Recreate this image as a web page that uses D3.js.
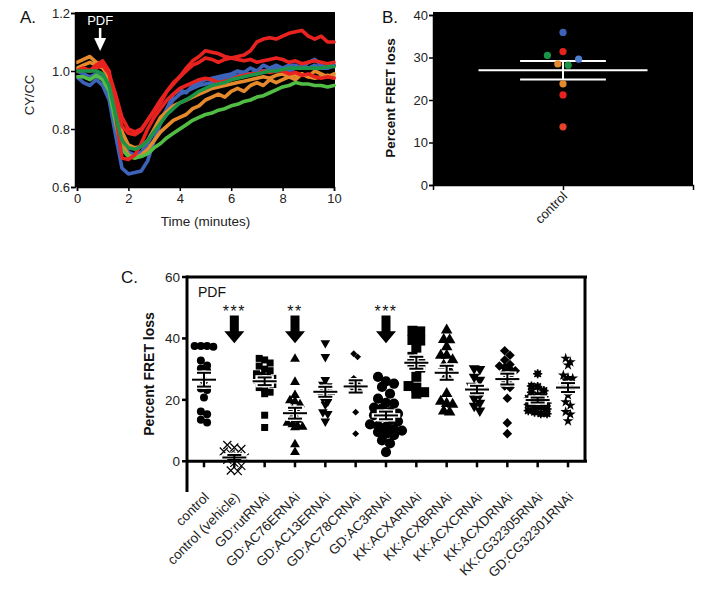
<!DOCTYPE html>
<html><head><meta charset="utf-8">
<script src="https://cdn.jsdelivr.net/npm/d3@7"></script>
<style>body{margin:0;background:#fff;} svg{display:block;font-family:"Liberation Sans",Arial,sans-serif;}</style>
</head><body><svg id="c" width="705" height="590"></svg>
<script>
// ---------- Panel A data ----------
const times = [0,0.25,0.5,0.75,1,1.25,1.5,1.75,2,2.25,2.5,2.75,3,3.25,3.5,3.75,4,4.25,4.5,4.75,5,5.25,5.5,5.75,6,6.25,6.5,6.75,7,7.25,7.5,7.75,8,8.25,8.5,8.75,9,9.25,9.5,9.75,10];
const traceBlue2 = [1.00,0.99,0.98,0.99,0.98,0.95,0.86,0.76,0.72,0.71,0.72,0.75,0.79,0.83,0.87,0.90,0.92,0.93,0.94,0.95,0.955,0.96,0.97,0.975,0.98,0.985,0.99,0.99,1.00,1.00,1.005,1.01,1.01,1.00,1.01,1.015,1.01,1.02,1.01,1.01,1.02];
const traceBlue1 = [0.98,0.96,0.95,0.97,0.95,0.90,0.78,0.665,0.645,0.65,0.655,0.69,0.76,0.82,0.87,0.92,0.935,0.925,0.95,0.96,0.97,0.975,0.98,0.985,0.99,1.00,0.995,1.01,1.00,1.02,1.01,1.02,1.01,1.02,1.02,1.01,1.03,1.04,1.02,1.01,1.02];
const traceOrange2 = [1.01,1.02,1.03,1.02,1.01,0.98,0.90,0.79,0.745,0.735,0.74,0.76,0.80,0.84,0.86,0.88,0.89,0.90,0.91,0.92,0.93,0.94,0.945,0.95,0.955,0.96,0.965,0.97,0.975,0.98,0.975,0.985,0.99,0.98,0.985,0.99,0.98,0.975,0.98,0.985,0.98];
const traceOrange1 = [1.03,1.04,1.05,1.03,1.02,0.97,0.86,0.75,0.71,0.70,0.71,0.73,0.76,0.79,0.81,0.83,0.84,0.85,0.87,0.88,0.90,0.91,0.92,0.91,0.93,0.94,0.93,0.95,0.96,0.95,0.97,0.96,0.97,0.98,0.97,0.99,0.98,1.00,0.99,0.98,0.99];
const traceGreenLight = [0.98,0.98,0.97,0.985,0.97,0.93,0.82,0.73,0.705,0.70,0.705,0.715,0.735,0.75,0.77,0.785,0.80,0.815,0.83,0.84,0.85,0.855,0.865,0.87,0.88,0.885,0.895,0.90,0.91,0.915,0.925,0.935,0.945,0.95,0.96,0.955,0.955,0.95,0.95,0.945,0.95];
const traceRed2 = [1.00,1.01,1.00,1.01,1.02,0.99,0.92,0.84,0.80,0.79,0.80,0.83,0.86,0.89,0.93,0.96,0.98,1.00,1.02,1.03,1.045,1.04,1.03,1.04,1.045,1.04,1.035,1.04,1.03,1.035,1.04,1.045,1.04,1.03,1.035,1.025,1.03,1.035,1.03,1.025,1.03];
const traceRed1 = [1.00,1.01,1.00,1.02,1.03,0.99,0.90,0.81,0.785,0.78,0.795,0.83,0.865,0.90,0.93,0.955,0.98,1.01,1.035,1.05,1.07,1.065,1.06,1.05,1.045,1.05,1.055,1.07,1.10,1.11,1.115,1.11,1.12,1.13,1.135,1.14,1.12,1.11,1.12,1.10,1.10];
const traceRed3 = [1.00,1.01,1.00,1.02,1.035,1.00,0.85,0.70,0.695,0.71,0.75,0.80,0.84,0.87,0.90,0.92,0.94,0.95,0.96,0.97,0.975,0.97,0.96,0.965,0.97,0.98,0.985,0.99,0.99,1.00,0.995,1.00,1.00,0.99,0.995,0.985,0.99,0.98,0.975,0.98,0.975];
const traceGreenDark = [1.00,1.00,1.00,1.00,0.99,0.95,0.85,0.76,0.735,0.73,0.74,0.76,0.79,0.82,0.85,0.87,0.89,0.90,0.915,0.93,0.94,0.95,0.955,0.96,0.97,0.975,0.98,0.985,0.99,0.995,1.00,1.00,1.005,1.01,1.01,1.01,1.01,1.01,1.01,1.015,1.015];
const traceKeys = ["blue","blue","orange","orange","lightgreen","red","red","red","green"];
const aTicksX = [0,2,4,6,8,10];
const aTicksY = [0.6,0.8,1.0,1.2];
const pdfTime = 0.9;

// ---------- Panel B data ----------
const bCategory = ["control"];
const bValues = [35.9,31.4,30.5,29.6,28.5,28.2,23.8,21.2,13.7];
const bKeys   = ["blue","red","green","lightblue","orange","green","orange","red","redorange"];
const bJitter = [0,0,-0.12,0.12,-0.04,0.04,0,0,0];
const bTicksY = [0,10,20,30,40];

// ---------- Panel C data ----------
const cCategories = ["control","control (vehicle)","GD:rutRNAi","GD:AC76ERNAi","GD:AC13ERNAi","GD:AC78CRNAi","GD:AC3RNAi","KK:ACXARNAi","KK:ACXBRNAi","KK:ACXCRNAi","KK:ACXDRNAi","KK:CG32305RNAi","GD:CG32301RNAi"];
const cControl   = [37.5,37.5,37.3,37.5,32.8,31.2,30.2,29.5,26.2,23.7,23.2,20.8,16.2,15.3,13.5,12.6];
const cVehicle   = [5.3,4.5,4.0,3.2,2.5,1.8,1.2,0.5,-0.5,-1.5,-3.0,-3.2];
const cRut       = [33.5,33,32,31,30,29.5,28.5,28,27.5,27,26.5,26,25.5,25,24,23.5,22.5,22,15,11];
const cAC76E     = [33.3,25.8,21.5,19.5,19.8,18.5,17,16,14.5,13.5,12.5,12,11.5,11,11.2,5.5,3];
const cAC13E     = [38.5,34,26.5,25,24.5,23.5,22.5,22,21.5,21,20.5,19.5,18.5,16,15.5,13];
const cAC78C     = [35,34,27,26,25.5,25,24.5,24,23.5,23,16,9];
const cAC3       = [27.5,26,25.3,24.2,22,20.4,19,18.8,17.5,17.2,16,15.5,15,14.5,13.4,13,12,11.5,11.2,10.5,10,9.5,9,8.5,6.8,5.8,3];
const cACXA      = [42.5,42.3,39.5,39.3,37,34,32,31.5,30.5,27.5,24.5,24,22.5,22];
const cACXB      = [42.7,39.6,39.5,37.2,34.5,34.5,33,31.3,29.6,28,22,19.5,18.8,18.5,16.3,16];
const cACXC      = [30.2,30,27.5,26.5,24.5,24,23,22.5,21.5,20.5,19,18,16.5];
const cACXD      = [36,34.5,33,31.5,31,30.5,30,29.5,29,28,26.5,25,24.5,24,20.5,12.5,9];
const cCG32305   = [28.5,24.5,24.3,23,22.5,21.5,21,20.5,20,19.5,19,18.5,18,17.5,17,16.5,16,15.5,15.5];
const cCG32301   = [33.5,32.3,31.3,28,27.2,27,26.5,25.5,25,24.5,23.8,21.5,19.3,18.2,16.1,15.3,13.1];
const cSeries = [cControl,cVehicle,cRut,cAC76E,cAC13E,cAC78C,cAC3,cACXA,cACXB,cACXC,cACXD,cCG32305,cCG32301];
const cArrowCats = ["control (vehicle)","GD:AC76ERNAi","GD:AC3RNAi"];
const cSigLabels = ["***","**","***"];
const cTicksY = [0,20,40,60];

// ---------- drawing ----------
const svg = d3.select("#c");
const colors = {blue:"#3d63b9",lightblue:"#4f80cf",orange:"#e58a2c",lightgreen:"#52bd45",green:"#1c9447",red:"#e8231f",redorange:"#e8422a"};

// ===== Panel A =====
const xA = d3.scaleLinear().domain([0,10]).range([77,334]);
const yA = d3.scaleLinear().domain([0.6,1.2]).range([187,13]);
const gA = svg.append("g");
gA.append("rect").attr("x",75).attr("y",12).attr("width",335-75).attr("height",187-12).attr("fill","#000");
const traces = [traceBlue2,traceBlue1,traceOrange2,traceOrange1,traceGreenLight,traceRed2,traceRed1,traceRed3,traceGreenDark];
const lineA = d3.line().x((d,i)=>xA(times[i])).y(d=>yA(d)).curve(d3.curveLinear);
gA.append("g").selectAll("path").data(traces).join("path")
  .attr("d",lineA).attr("fill","none").attr("stroke",(d,i)=>colors[traceKeys[i]])
  .attr("stroke-width",3.6).attr("stroke-linejoin","round").attr("stroke-linecap","round");
const axA = gA.append("g").attr("transform","translate(75,0)")
  .call(d3.axisLeft(yA).tickValues(aTicksY).tickFormat(d3.format(".1f")).tickSize(4).tickPadding(1));
const axAx = gA.append("g").attr("transform","translate(0,187)")
  .call(d3.axisBottom(xA).tickValues(aTicksX).tickFormat(d3.format("d")).tickSize(4).tickPadding(3));
[axA,axAx].forEach(a=>{a.selectAll("text").attr("font-size",13).attr("fill","#222").attr("font-family","Liberation Sans, Arial, sans-serif");
  a.select(".domain").attr("stroke","#000").attr("stroke-width",1.5); a.selectAll(".tick line").attr("stroke-width",1.5);});
gA.append("text").attr("x",xA(pdfTime)).attr("y",25).attr("text-anchor","middle").attr("fill","#fff").attr("font-size",13).text("PDF");
gA.append("line").attr("x1",xA(pdfTime)).attr("x2",xA(pdfTime)).attr("y1",28).attr("y2",40).attr("stroke","#fff").attr("stroke-width",2.5);
gA.append("path").attr("d",`M${xA(pdfTime)-6},38L${xA(pdfTime)+6},38L${xA(pdfTime)},51Z`).attr("fill","#fff");
gA.append("text").attr("x",20).attr("y",23).attr("font-size",17).attr("fill","#111").text("A.");
gA.append("text").attr("transform","translate(34,95) rotate(-90)").attr("text-anchor","middle").attr("font-size",13).attr("fill","#222").text("CY/CC");
gA.append("text").attr("x",(xA(0)+xA(10))/2).attr("y",226).attr("text-anchor","middle").attr("font-size",13.5).attr("fill","#222").text("Time (minutes)");

// ===== Panel B =====
const xB = d3.scaleLinear().domain([-1,1]).range([433,693]);
const xBcat = d3.scalePoint().domain(bCategory).range([433,693]).padding(0.5);
const yB = d3.scaleLinear().domain([0,40]).range([185,15]);
const gB = svg.append("g");
gB.append("rect").attr("x",433).attr("y",12).attr("width",693-433).attr("height",185-12).attr("fill","#000");
const bMean = d3.mean(bValues), bSem = d3.deviation(bValues)/Math.sqrt(bValues.length);
const bx0 = xBcat("control");
gB.append("line").attr("x1",bx0).attr("x2",bx0).attr("y1",yB(bMean+bSem)).attr("y2",yB(bMean-bSem)).attr("stroke","#fff").attr("stroke-width",2);
gB.append("line").attr("x1",xB(-0.65)).attr("x2",xB(0.65)).attr("y1",yB(bMean)).attr("y2",yB(bMean)).attr("stroke","#fff").attr("stroke-width",2);
[bMean+bSem,bMean-bSem].forEach(v=>gB.append("line").attr("x1",xB(-0.33)).attr("x2",xB(0.33)).attr("y1",yB(v)).attr("y2",yB(v)).attr("stroke","#fff").attr("stroke-width",2));
gB.selectAll("circle.pt").data(bValues).join("circle").attr("class","pt")
  .attr("cx",(d,i)=>xB(bJitter[i])).attr("cy",d=>yB(d)).attr("r",3.6).attr("fill",(d,i)=>colors[bKeys[i]]);
const axB = gB.append("g").attr("transform","translate(433,0)")
  .call(d3.axisLeft(yB).tickValues(bTicksY).tickFormat(d3.format("d")).tickSize(4).tickPadding(1));
const axBx = gB.append("g").attr("transform","translate(0,185)")
  .call(d3.axisBottom(xBcat).tickSize(5).tickFormat(""));
[axB,axBx].forEach(a=>{a.selectAll("text").attr("font-size",13).attr("fill","#222").attr("font-family","Liberation Sans, Arial, sans-serif");
  a.select(".domain").attr("stroke","#000").attr("stroke-width",1.5); a.selectAll(".tick line").attr("stroke-width",1.5);});
gB.append("text").attr("transform",`translate(${bx0+5},197) rotate(-45)`).attr("text-anchor","end").attr("font-size",13).attr("fill","#222").text(bCategory[0]);
gB.append("text").attr("x",382).attr("y",23).attr("font-size",17).attr("fill","#111").text("B.");
gB.append("text").attr("transform","translate(395,98) rotate(-90)").attr("text-anchor","middle").attr("font-size",13.5).attr("font-weight","bold").attr("fill","#111").text("Percent FRET loss");

// ===== Panel C =====
const xC = d3.scalePoint().domain(cCategories).range([187,585]).padding(0.56);
const yC = d3.scaleLinear().domain([-10,60]).range([492,277]);
const gC = svg.append("g");
const markers = [
  {t:"circle",s:50},{t:"x",s:4},{t:"square",s:49},{t:"triangle",s:42},{t:"triDown",s:40},
  {t:"diamond",s:24},{t:"circle",s:82},{t:"square",s:100},{t:"triangle",s:58},{t:"triDown",s:52},
  {t:"diamond",s:46},{t:"aster",s:3.3},{t:"star",s:36}];
function diam(m){ if(m.t==="x") return m.s*2+1; if(m.t==="aster") return 8; return Math.sqrt(m.s)*(m.t==="circle"?1.13:1.0); }
// GraphPad-like scatter: group points into horizontal rows, spread each row around the centre
function rows(vals, cx, d){
  const idx = vals.map((v,i)=>i).sort((a,b)=>vals[b]-vals[a]);
  const out=new Array(vals.length);
  let row=[], rowTop=null;
  const flush=()=>{ const n=row.length; row.forEach((i,j)=>{ out[i]=[cx+(j-(n-1)/2)*d*0.78, yC(vals[i])]; }); row=[]; };
  for(const i of idx){
    const py=yC(vals[i]);
    if(rowTop===null || py-rowTop>d*0.7){ flush(); rowTop=py; }
    row.push(i);
  }
  flush();
  return out;
}
function drawMarker(g,m,x,y){
  if(m.t==="x"){
    const s=m.s;
    g.append("path").attr("d",`M${x-s},${y-s}L${x+s},${y+s}M${x-s},${y+s}L${x+s},${y-s}`).attr("stroke","#000").attr("stroke-width",1.2).attr("fill","none");
  } else if(m.t==="aster"){
    g.append("circle").attr("cx",x).attr("cy",y).attr("r",m.s).attr("fill","#000");
    let p=""; for(let a=0;a<8;a++){const an=a*Math.PI/4; p+=`M${x},${y}L${x+Math.cos(an)*4.6},${y+Math.sin(an)*4.6}`;}
    g.append("path").attr("d",p).attr("stroke","#000").attr("stroke-width",1.6);
  } else {
    const type={circle:d3.symbolCircle,square:d3.symbolSquare,triangle:d3.symbolTriangle,triDown:d3.symbolTriangle,diamond:d3.symbolSquare,star:d3.symbolStar}[m.t];
    const rot = m.t==="triDown"?180:(m.t==="diamond"?45:0);
    g.append("path").attr("d",d3.symbol().type(type).size(m.s)()).attr("transform",`translate(${x},${y}) rotate(${rot})`).attr("fill","#000");
  }
}
cSeries.forEach((vals,ci)=>{
  const cat=cCategories[ci], cx=xC(cat), m=markers[ci];
  const g=gC.append("g");
  const pos=rows(vals,cx,diam(m));
  pos.forEach(p=>drawMarker(g,m,p[0],p[1]));
  const mean=d3.mean(vals), sem=d3.deviation(vals)/Math.sqrt(vals.length);
  const segs=[[cx,cx,yC(mean+sem),yC(mean-sem)],[cx-12,cx+12,yC(mean),yC(mean)],[cx-7,cx+7,yC(mean+sem),yC(mean+sem)],[cx-7,cx+7,yC(mean-sem),yC(mean-sem)]];
  segs.forEach(s=>g.append("line").attr("x1",s[0]).attr("x2",s[1]).attr("y1",s[2]).attr("y2",s[3]).attr("stroke","#fff").attr("stroke-width",4.5).attr("stroke-linecap","square"));
  segs.forEach(s=>g.append("line").attr("x1",s[0]).attr("x2",s[1]).attr("y1",s[2]).attr("y2",s[3]).attr("stroke","#000").attr("stroke-width",2));
});
// frame + axes
const fr = gC.append("g").attr("stroke","#000").attr("stroke-width",3).attr("fill","none");
fr.append("line").attr("x1",187).attr("x2",587).attr("y1",yC(60)).attr("y2",yC(60));
fr.append("line").attr("x1",585).attr("x2",585).attr("y1",yC(60)).attr("y2",yC(0));
fr.append("line").attr("x1",187).attr("x2",587).attr("y1",yC(0)).attr("y2",yC(0));
fr.append("line").attr("x1",187).attr("x2",187).attr("y1",yC(60)-1.5).attr("y2",yC(-10));
cCategories.forEach(c=>fr.append("line").attr("x1",xC(c)).attr("x2",xC(c)).attr("y1",yC(0)).attr("y2",yC(0)+6).attr("stroke-width",2.5));
cTicksY.forEach(v=>{
  fr.append("line").attr("x1",182).attr("x2",187).attr("y1",yC(v)).attr("y2",yC(v)).attr("stroke-width",2.5);
  gC.append("text").attr("x",180).attr("y",yC(v)).attr("dy","0.35em").attr("text-anchor","end").attr("font-size",13.5).attr("fill","#222").text(v);
});
cCategories.forEach(c=>gC.append("text").attr("transform",`translate(${xC(c)+6},498) rotate(-45)`).attr("text-anchor","end").attr("font-size",13.5).attr("fill","#222").text(c));
// arrows
cArrowCats.forEach((c,i)=>{
  const x=xC(c);
  gC.append("path").attr("d",`M${x-4.5},${yC(47.5)}L${x+4.5},${yC(47.5)}L${x+4.5},${yC(42.3)}L${x+10},${yC(42.3)}L${x},${yC(38.4)}L${x-10},${yC(42.3)}L${x-4.5},${yC(42.3)}Z`).attr("fill","#000");
  gC.append("text").attr("x",x).attr("y",yC(47.5)+2).attr("text-anchor","middle").attr("font-size",16).attr("letter-spacing","1.5px").attr("fill","#111").text(cSigLabels[i]);
});
gC.append("text").attr("x",198).attr("y",297).attr("font-size",14).attr("fill","#111").text("PDF");
gC.append("text").attr("x",121).attr("y",283).attr("font-size",17).attr("fill","#111").text("C.");
gC.append("text").attr("transform","translate(154,374) rotate(-90)").attr("text-anchor","middle").attr("font-size",14).attr("font-weight","bold").attr("fill","#111").text("Percent FRET loss");
</script></body></html>
